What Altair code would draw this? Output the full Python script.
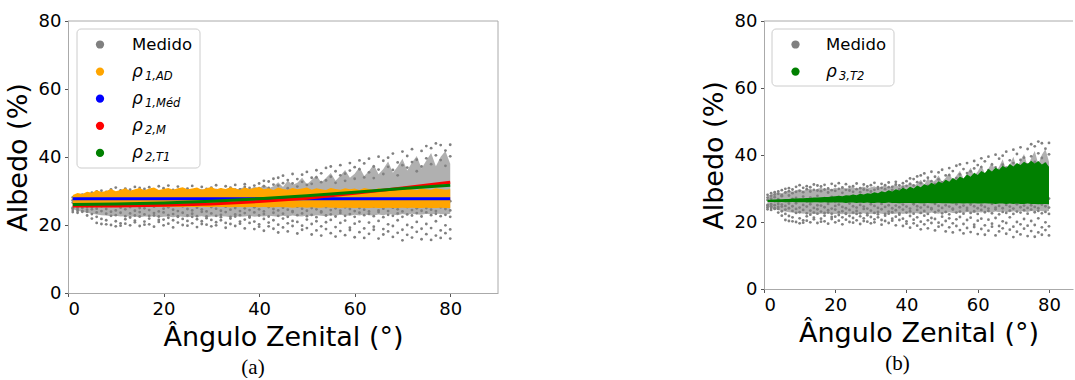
import altair as alt
import pandas as pd

FONT = "DejaVu Sans"
GRAY = "#808080"

# ---------------- data ----------------
angles = [1, 2, 3, 4, 5, 6, 7, 8, 9, 10, 11, 12, 13, 14, 15, 16, 17, 18, 19, 20,
          21, 22, 23, 24, 25, 26, 27, 28, 29, 30, 31, 32, 33, 34, 35, 36, 37, 38, 39, 40,
          41, 42, 43, 44, 45, 46, 47, 48, 49, 50, 51, 52, 53, 54, 55, 56, 57, 58, 59, 60,
          61, 62, 63, 64, 65, 66, 67, 68, 69, 70, 71, 72, 73, 74, 75, 76, 77, 78, 79, 80]

# measured albedo (%) samples per zenith-angle column
medido_values = [
    [24.4, 23.8, 25.1, 24.9, 26.6, 28.1, 27.3], [23.6, 24.7, 24.2, 25.3, 27.0, 28.6, 27.8],
    [23.9, 24.1, 25.0, 26.2, 27.4, 28.9, 28.2], [22.8, 24.5, 23.9, 25.4, 26.8, 29.1, 28.4],
    [21.9, 23.2, 24.6, 25.2, 27.7, 29.5, 28.0], [20.6, 22.4, 23.7, 24.8, 26.3, 28.8, 29.9],
    [20.3, 21.8, 24.1, 25.5, 27.9, 30.1, 29.2], [21.4, 20.2, 23.3, 24.7, 26.9, 29.7, 28.6],
    [20.0, 22.7, 23.9, 25.6, 27.2, 30.5, 29.0], [19.6, 21.1, 22.9, 24.3, 26.4, 29.3, 31.0],
    [20.5, 19.8, 23.6, 25.1, 27.6, 30.2, 28.9], [21.7, 20.4, 22.6, 24.6, 26.1, 29.8, 30.7],
    [19.9, 22.2, 23.4, 25.3, 27.3, 30.4, 29.1], [20.8, 21.3, 22.8, 24.2, 26.7, 29.6, 31.2],
    [19.7, 22.5, 23.8, 25.0, 27.8, 30.9, 29.4], [21.0, 20.1, 23.1, 24.9, 26.5, 29.2, 30.6],
    [20.2, 21.9, 22.7, 24.4, 27.1, 31.1, 29.7], [19.5, 22.8, 23.5, 25.4, 26.2, 30.0, 28.8],
    [20.9, 21.5, 22.5, 24.0, 27.5, 29.5, 31.4], [21.6, 19.9, 23.7, 24.8, 26.0, 30.8, 29.3],
    [20.4, 22.1, 22.9, 25.2, 27.4, 29.9, 31.6], [19.3, 21.4, 23.2, 24.5, 26.6, 30.3, 28.7],
    [20.7, 22.6, 22.4, 24.1, 27.2, 31.3, 29.6], [21.8, 20.0, 23.6, 25.5, 26.3, 29.4, 30.5],
    [19.8, 21.2, 22.8, 24.7, 27.7, 30.7, 29.0], [20.5, 22.4, 23.3, 24.3, 26.8, 31.5, 29.8],
    [19.4, 21.7, 22.6, 25.1, 26.1, 30.1, 28.9], [21.1, 20.3, 23.9, 24.6, 27.3, 29.7, 31.2],
    [20.1, 22.0, 22.5, 24.0, 26.4, 30.6, 29.5], [19.6, 21.5, 23.4, 25.3, 27.6, 31.0, 29.1],
    [20.8, 19.9, 22.7, 24.8, 26.9, 29.6, 31.7], [21.4, 22.3, 23.0, 24.2, 26.2, 30.4, 29.9],
    [19.2, 20.6, 23.8, 25.4, 27.1, 31.4, 30.2], [20.3, 21.9, 22.4, 24.5, 26.6, 29.8, 31.0],
    [19.7, 22.5, 23.1, 25.0, 27.8, 31.8, 30.4], [21.0, 20.4, 22.9, 24.1, 26.0, 30.5, 29.6],
    [19.0, 21.6, 23.5, 24.9, 27.4, 31.2, 32.0], [20.6, 22.2, 22.6, 24.4, 26.5, 30.9, 29.8],
    [18.8, 21.0, 23.7, 25.2, 27.0, 31.6, 30.3], [20.2, 19.5, 22.8, 24.6, 26.7, 32.2, 30.8],
    [18.3, 21.8, 23.2, 24.0, 26.3, 31.4, 33.0], [19.6, 20.7, 22.5, 25.3, 27.5, 32.8, 30.9],
    [18.9, 21.4, 23.6, 24.7, 26.1, 31.9, 33.6], [17.8, 20.1, 22.7, 24.3, 27.2, 33.9, 31.6],
    [19.3, 21.9, 23.3, 25.1, 26.8, 32.3, 34.5], [18.1, 20.5, 22.4, 24.5, 26.4, 30.8, 33.2],
    [19.7, 21.2, 23.8, 24.1, 27.6, 35.0, 32.2], [17.5, 20.9, 22.9, 25.4, 26.2, 33.5, 31.3],
    [18.6, 19.8, 23.4, 24.8, 27.3, 34.8, 32.7], [19.1, 21.6, 22.6, 24.2, 26.6, 31.8, 35.6],
    [17.2, 20.3, 23.0, 25.0, 27.0, 33.9, 32.1], [18.4, 21.1, 22.3, 24.6, 26.5, 36.1, 34.0],
    [16.9, 19.6, 23.7, 24.0, 27.4, 32.6, 35.2], [18.8, 20.8, 22.8, 25.3, 26.1, 36.8, 33.1],
    [17.6, 21.5, 23.1, 24.4, 27.8, 34.2, 37.2], [16.6, 19.4, 22.5, 24.9, 26.7, 32.4, 35.8],
    [18.2, 20.6, 23.5, 24.2, 27.1, 37.6, 34.6], [17.0, 21.3, 22.7, 25.2, 26.3, 35.1, 33.0],
    [18.5, 19.2, 23.2, 24.7, 27.6, 38.2, 36.0], [16.4, 20.4, 22.4, 24.1, 26.9, 33.6, 37.0],
    [17.9, 21.0, 23.6, 25.0, 26.2, 36.4, 39.0], [16.2, 19.0, 22.9, 24.5, 27.3, 34.0, 38.1],
    [17.4, 20.7, 23.3, 24.0, 26.6, 39.5, 35.5], [18.6, 19.5, 22.6, 25.4, 27.7, 37.2, 33.8],
    [16.0, 21.2, 23.8, 24.3, 26.4, 40.1, 36.3], [17.2, 18.8, 22.3, 24.8, 27.0, 35.0, 38.9],
    [18.1, 20.2, 23.0, 24.1, 26.8, 39.8, 37.1], [16.5, 19.7, 22.7, 25.1, 27.5, 36.2, 41.0],
    [17.7, 21.4, 23.4, 24.6, 26.1, 38.4, 34.6], [15.5, 18.6, 22.4, 24.0, 27.2, 41.6, 37.6],
    [17.1, 20.0, 23.1, 25.3, 26.5, 36.9, 40.3], [16.3, 19.3, 22.8, 24.4, 27.8, 42.3, 38.5],
    [18.0, 20.9, 23.5, 24.9, 26.3, 39.2, 35.8], [15.8, 18.9, 22.5, 24.2, 27.4, 41.8, 37.2],
    [17.3, 20.3, 23.7, 25.0, 26.7, 43.2, 39.6], [15.6, 19.1, 22.9, 24.5, 27.1, 37.9, 42.6],
    [16.9, 21.1, 23.3, 24.1, 26.4, 44.0, 40.5], [16.2, 18.4, 22.6, 25.2, 27.6, 39.1, 43.5],
    [17.6, 19.9, 23.0, 24.7, 26.2, 41.9, 37.4], [16.0, 18.7, 22.4, 24.3, 27.0, 43.6, 40.2],
]

# dense core of the measured cloud (streaky upper edge)
core_lo = [24.6, 24.2, 23.9, 23.6, 23.3, 23.1, 22.9, 22.8, 22.6, 22.7,
           22.5, 22.6, 22.4, 22.5, 22.3, 22.5, 22.4, 22.6, 22.3, 22.4,
           22.5, 22.3, 22.6, 22.4, 22.3, 22.5, 22.4, 22.6, 22.3, 22.5,
           22.4, 22.6, 22.5, 22.3, 22.6, 22.4, 22.5, 22.7, 22.4, 22.6,
           22.5, 22.7, 22.6, 22.4, 22.7, 22.5, 22.8, 22.6, 22.5, 22.8,
           22.6, 22.9, 22.7, 22.6, 22.9, 22.7, 23.0, 22.8, 22.7, 23.0,
           22.8, 23.1, 22.9, 22.8, 23.1, 22.9, 23.2, 23.0, 22.9, 23.2,
           23.0, 23.3, 23.1, 23.0, 23.3, 23.1, 23.4, 23.2, 23.1, 23.3]
core_hi = [27.8, 28.2, 28.5, 28.9, 28.6, 29.1, 29.4, 29.0, 29.5, 29.8,
           29.3, 29.7, 30.0, 29.4, 29.9, 30.2, 29.6, 30.1, 29.7, 30.3,
           29.8, 30.4, 29.9, 30.2, 30.5, 29.8, 30.3, 30.6, 30.0, 30.4,
           30.7, 30.1, 30.5, 30.9, 30.2, 30.8, 31.1, 30.4, 31.3, 30.7,
           31.9, 30.8, 31.4, 32.6, 31.2, 33.1, 31.8, 32.4, 33.9, 32.0,
           33.2, 34.6, 32.5, 33.8, 35.3, 33.0, 34.5, 36.2, 33.9, 35.1,
           37.0, 34.4, 35.9, 37.8, 34.9, 36.5, 38.7, 35.4, 37.2, 39.5,
           36.0, 38.4, 40.3, 36.6, 39.0, 41.2, 37.3, 40.1, 41.8, 38.0]

# rho_1,AD band
ad_lo = [26.0, 25.8, 25.7, 25.6, 25.6, 25.5, 25.5, 25.4, 25.5, 25.4,
         25.4, 25.3, 25.4, 25.3, 25.4, 25.3, 25.4, 25.3, 25.3, 25.4,
         25.3, 25.4, 25.3, 25.3, 25.4, 25.3, 25.3, 25.4, 25.3, 25.3,
         25.4, 25.3, 25.3, 25.2, 25.3, 25.3, 25.2, 25.3, 25.3, 25.2,
         25.3, 25.2, 25.2, 25.3, 25.2, 25.2, 25.1, 25.2, 25.2, 25.1,
         25.2, 25.1, 25.1, 25.2, 25.1, 25.1, 25.0, 25.1, 25.1, 25.0,
         25.1, 25.0, 25.0, 25.1, 25.0, 25.0, 25.1, 25.0, 25.0, 25.1,
         25.0, 25.1, 25.0, 25.0, 25.1, 25.0, 25.0, 25.1, 25.0, 25.0]
ad_hi = [28.8, 29.4, 29.1, 29.8, 29.5, 30.2, 29.7, 30.0, 30.6, 29.9,
         30.3, 30.8, 30.1, 30.5, 30.9, 30.2, 30.7, 31.0, 30.3, 30.6,
         30.9, 30.4, 30.8, 31.1, 30.5, 30.7, 31.0, 30.4, 30.8, 31.2,
         30.5, 30.9, 30.6, 31.1, 30.7, 30.4, 31.0, 30.6, 30.9, 31.2,
         30.5, 30.8, 30.3, 31.0, 30.6, 30.4, 30.9, 30.5, 30.7, 31.0,
         30.4, 30.8, 30.5, 30.3, 30.9, 30.6, 30.4, 30.8, 30.5, 30.7,
         30.3, 30.9, 30.6, 30.4, 30.8, 30.5, 30.3, 30.7, 30.6, 30.4,
         30.8, 30.5, 30.3, 30.7, 30.5, 30.4, 30.8, 30.6, 30.4, 30.5]

# model curves
line_x = [1, 10, 20, 30, 40, 50, 60, 70, 80]
med_y = [27.7, 27.7, 27.7, 27.7, 27.7, 27.7, 27.7, 27.7, 27.7]
m_y = [25.6, 25.6, 25.8, 26.2, 26.9, 27.9, 29.3, 30.9, 32.6]
t1_y = [26.0, 26.2, 26.5, 27.0, 27.7, 28.6, 29.6, 30.7, 31.7]

# rho_3,T2 wedge
t2_lo = [26.0, 26.0, 26.0, 25.9, 26.0, 25.9, 25.9, 26.0, 25.9, 25.9,
         25.9, 25.9, 25.8, 25.9, 25.9, 25.8, 25.9, 25.8, 25.8, 25.9,
         25.8, 25.8, 25.7, 25.8, 25.8, 25.7, 25.8, 25.7, 25.8, 25.7,
         25.7, 25.8, 25.7, 25.7, 25.8, 25.7, 25.7, 25.6, 25.7, 25.7,
         25.7, 25.6, 25.7, 25.6, 25.6, 25.7, 25.6, 25.6, 25.7, 25.6,
         25.6, 25.6, 25.5, 25.6, 25.6, 25.5, 25.6, 25.5, 25.6, 25.5,
         25.5, 25.6, 25.5, 25.5, 25.4, 25.5, 25.5, 25.4, 25.5, 25.4,
         25.5, 25.4, 25.4, 25.5, 25.4, 25.4, 25.3, 25.4, 25.4, 25.3]
t2_hi = [26.6, 26.7, 26.7, 26.8, 26.8, 26.9, 26.9, 27.0, 27.0, 27.1,
         27.1, 27.2, 27.2, 27.3, 27.3, 27.4, 27.5, 27.5, 27.6, 27.7,
         27.8, 27.7, 28.0, 27.9, 28.2, 28.0, 28.4, 28.2, 28.6, 28.4,
         28.9, 28.6, 29.2, 28.9, 29.5, 29.1, 29.8, 29.4, 30.2, 29.7,
         30.5, 30.0, 30.9, 30.4, 31.3, 30.8, 31.7, 31.1, 32.2, 31.6,
         32.6, 32.0, 33.1, 32.5, 33.6, 33.0, 34.2, 33.5, 34.7, 34.0,
         35.2, 34.6, 35.8, 35.1, 36.3, 35.6, 36.8, 36.1, 37.3, 36.6,
         37.6, 37.0, 38.0, 37.3, 38.3, 37.5, 38.2, 37.2, 37.8, 36.5]

y_ticks = [0, 20, 40, 60, 80]
x_ticks = [0, 20, 40, 60, 80]

# ---------------- tables ----------------
medido_df = pd.DataFrame(
    [{"x": a, "y": v} for a, vals in zip(angles, medido_values) for v in vals]
)
core_df = pd.DataFrame({"x": angles, "lo": core_lo, "hi": core_hi})
ad_df = pd.DataFrame({"x": angles, "lo": ad_lo, "hi": ad_hi})
t2_df = pd.DataFrame({"x": angles, "lo": t2_lo, "hi": t2_hi})
med_df = pd.DataFrame({"x": line_x, "y": med_y})
m_df = pd.DataFrame({"x": line_x, "y": m_y})
t1_df = pd.DataFrame({"x": line_x, "y": t1_y})
one_df = pd.DataFrame({"k": [0]})  # single row for frame / legend decorations


def make_panel(width, height, xmax, bands, lines, legend, caption, cap_dx, right_border):
    xs = alt.Scale(domain=[0, xmax], nice=False, zero=False)
    ys = alt.Scale(domain=[0, 80], nice=False)
    xa = alt.Axis(values=x_ticks, title="Ângulo Zenital (°)")
    ya = alt.Axis(values=y_ticks, title="Albedo (%)")

    layers = []
    layers.append(
        alt.Chart(core_df).mark_area(color=GRAY, opacity=0.62).encode(
            x=alt.X("x:Q", scale=xs, axis=xa),
            y=alt.Y("lo:Q", scale=ys, axis=ya),
            y2="hi:Q",
        )
    )
    layers.append(
        alt.Chart(medido_df).mark_circle(color=GRAY, size=8, opacity=1).encode(
            x=alt.X("x:Q", scale=xs, axis=xa),
            y=alt.Y("y:Q", scale=ys, axis=ya),
        )
    )
    for df, col in bands:
        layers.append(
            alt.Chart(df).mark_area(color=col, opacity=1).encode(
                x=alt.X("x:Q", scale=xs, axis=xa),
                y=alt.Y("lo:Q", scale=ys, axis=ya),
                y2="hi:Q",
            )
        )
    for df, col in lines:
        layers.append(
            alt.Chart(df).mark_line(color=col, strokeWidth=3).encode(
                x=alt.X("x:Q", scale=xs, axis=xa),
                y=alt.Y("y:Q", scale=ys, axis=ya),
            )
        )
    # frame (matplotlib spines)
    layers.append(
        alt.Chart(one_df).mark_rule(color="#aaaaaa", strokeWidth=1).encode(
            x=alt.value(0), x2=alt.value(width), y=alt.value(0)
        )
    )
    if right_border:
        layers.append(
            alt.Chart(one_df).mark_rule(color="#aaaaaa", strokeWidth=1).encode(
                x=alt.value(width), y=alt.value(0), y2=alt.value(height)
            )
        )
    # legend
    bx0, by0, bx1, by1, cx, tx, rows = legend
    layers.append(
        alt.Chart(one_df).mark_rect(
            fill="white", fillOpacity=0.8, stroke="#cccccc", strokeWidth=1, cornerRadius=4
        ).encode(x=alt.value(bx0), x2=alt.value(bx1), y=alt.value(by0), y2=alt.value(by1))
    )
    for i, (col, main, sub) in enumerate(rows):
        yy = by0 + 15.5 + 27.1 * i
        layers.append(
            alt.Chart(one_df).mark_circle(color=col, size=68, opacity=1).encode(
                x=alt.value(cx), y=alt.value(yy)
            )
        )
        if sub is None:
            layers.append(
                alt.Chart(one_df).mark_text(
                    text=main, font=FONT, fontSize=16.5, fontWeight="normal", color="black",
                    align="left", baseline="middle"
                ).encode(x=alt.value(tx), y=alt.value(yy))
            )
        else:
            layers.append(
                alt.Chart(one_df).mark_text(
                    text=main, font=FONT, fontSize=17, fontStyle="italic",
                    fontWeight="normal", color="black", align="left", baseline="middle"
                ).encode(x=alt.value(tx), y=alt.value(yy))
            )
            layers.append(
                alt.Chart(one_df).mark_text(
                    text=sub, font=FONT, fontSize=11.5, fontStyle="italic",
                    fontWeight="normal", color="black", align="left", baseline="middle"
                ).encode(x=alt.value(tx + 13), y=alt.value(yy + 5))
            )

    return alt.layer(*layers).properties(
        width=width,
        height=height,
        title=alt.TitleParams(
            caption, orient="bottom", font="Liberation Serif", fontSize=21,
            fontWeight="normal", color="black", dx=cap_dx, offset=7,
        ),
    )


legend_a = (9, 8, 132, 147, 32, 64, [
    (GRAY, "Medido", None),
    ("#ffa500", "ρ", "1,AD"),
    ("#0000ff", "ρ", "1,Méd"),
    ("#ff0000", "ρ", "2,M"),
    ("#008000", "ρ", "2,T1"),
])
legend_b = (8, 8, 130, 65, 31.5, 62, [
    (GRAY, "Medido", None),
    ("#008000", "ρ", "3,T2"),
])

panel_a = make_panel(
    430, 272, 90,
    bands=[(ad_df, "#ffa500")],
    lines=[(med_df, "#0000ff"), (m_df, "#ff0000"), (t1_df, "#008000")],
    legend=legend_a, caption="(a)", cap_dx=-30, right_border=True,
)
panel_b = make_panel(
    309, 268, 86.74,
    bands=[(t2_df, "#008000")],
    lines=[],
    legend=legend_b, caption="(b)", cap_dx=-21, right_border=False,
)

chart = alt.hconcat(panel_a, panel_b, spacing=266, bounds="flush").properties(
    padding={"left": 4, "top": 12, "right": 0, "bottom": 0}
).configure_view(stroke=None).configure_axis(
    grid=False,
    labelFont=FONT, labelFontSize=18, labelColor="black", labelPadding=3.5,
    titleFont=FONT, titleFontSize=27, titleFontWeight="normal", titleColor="black",
    domainColor="#aaaaaa", tickColor="#555555", tickSize=3.5, titlePadding=6,
)

chart.save("out.html", embed_options={"renderer": "svg", "actions": False})
